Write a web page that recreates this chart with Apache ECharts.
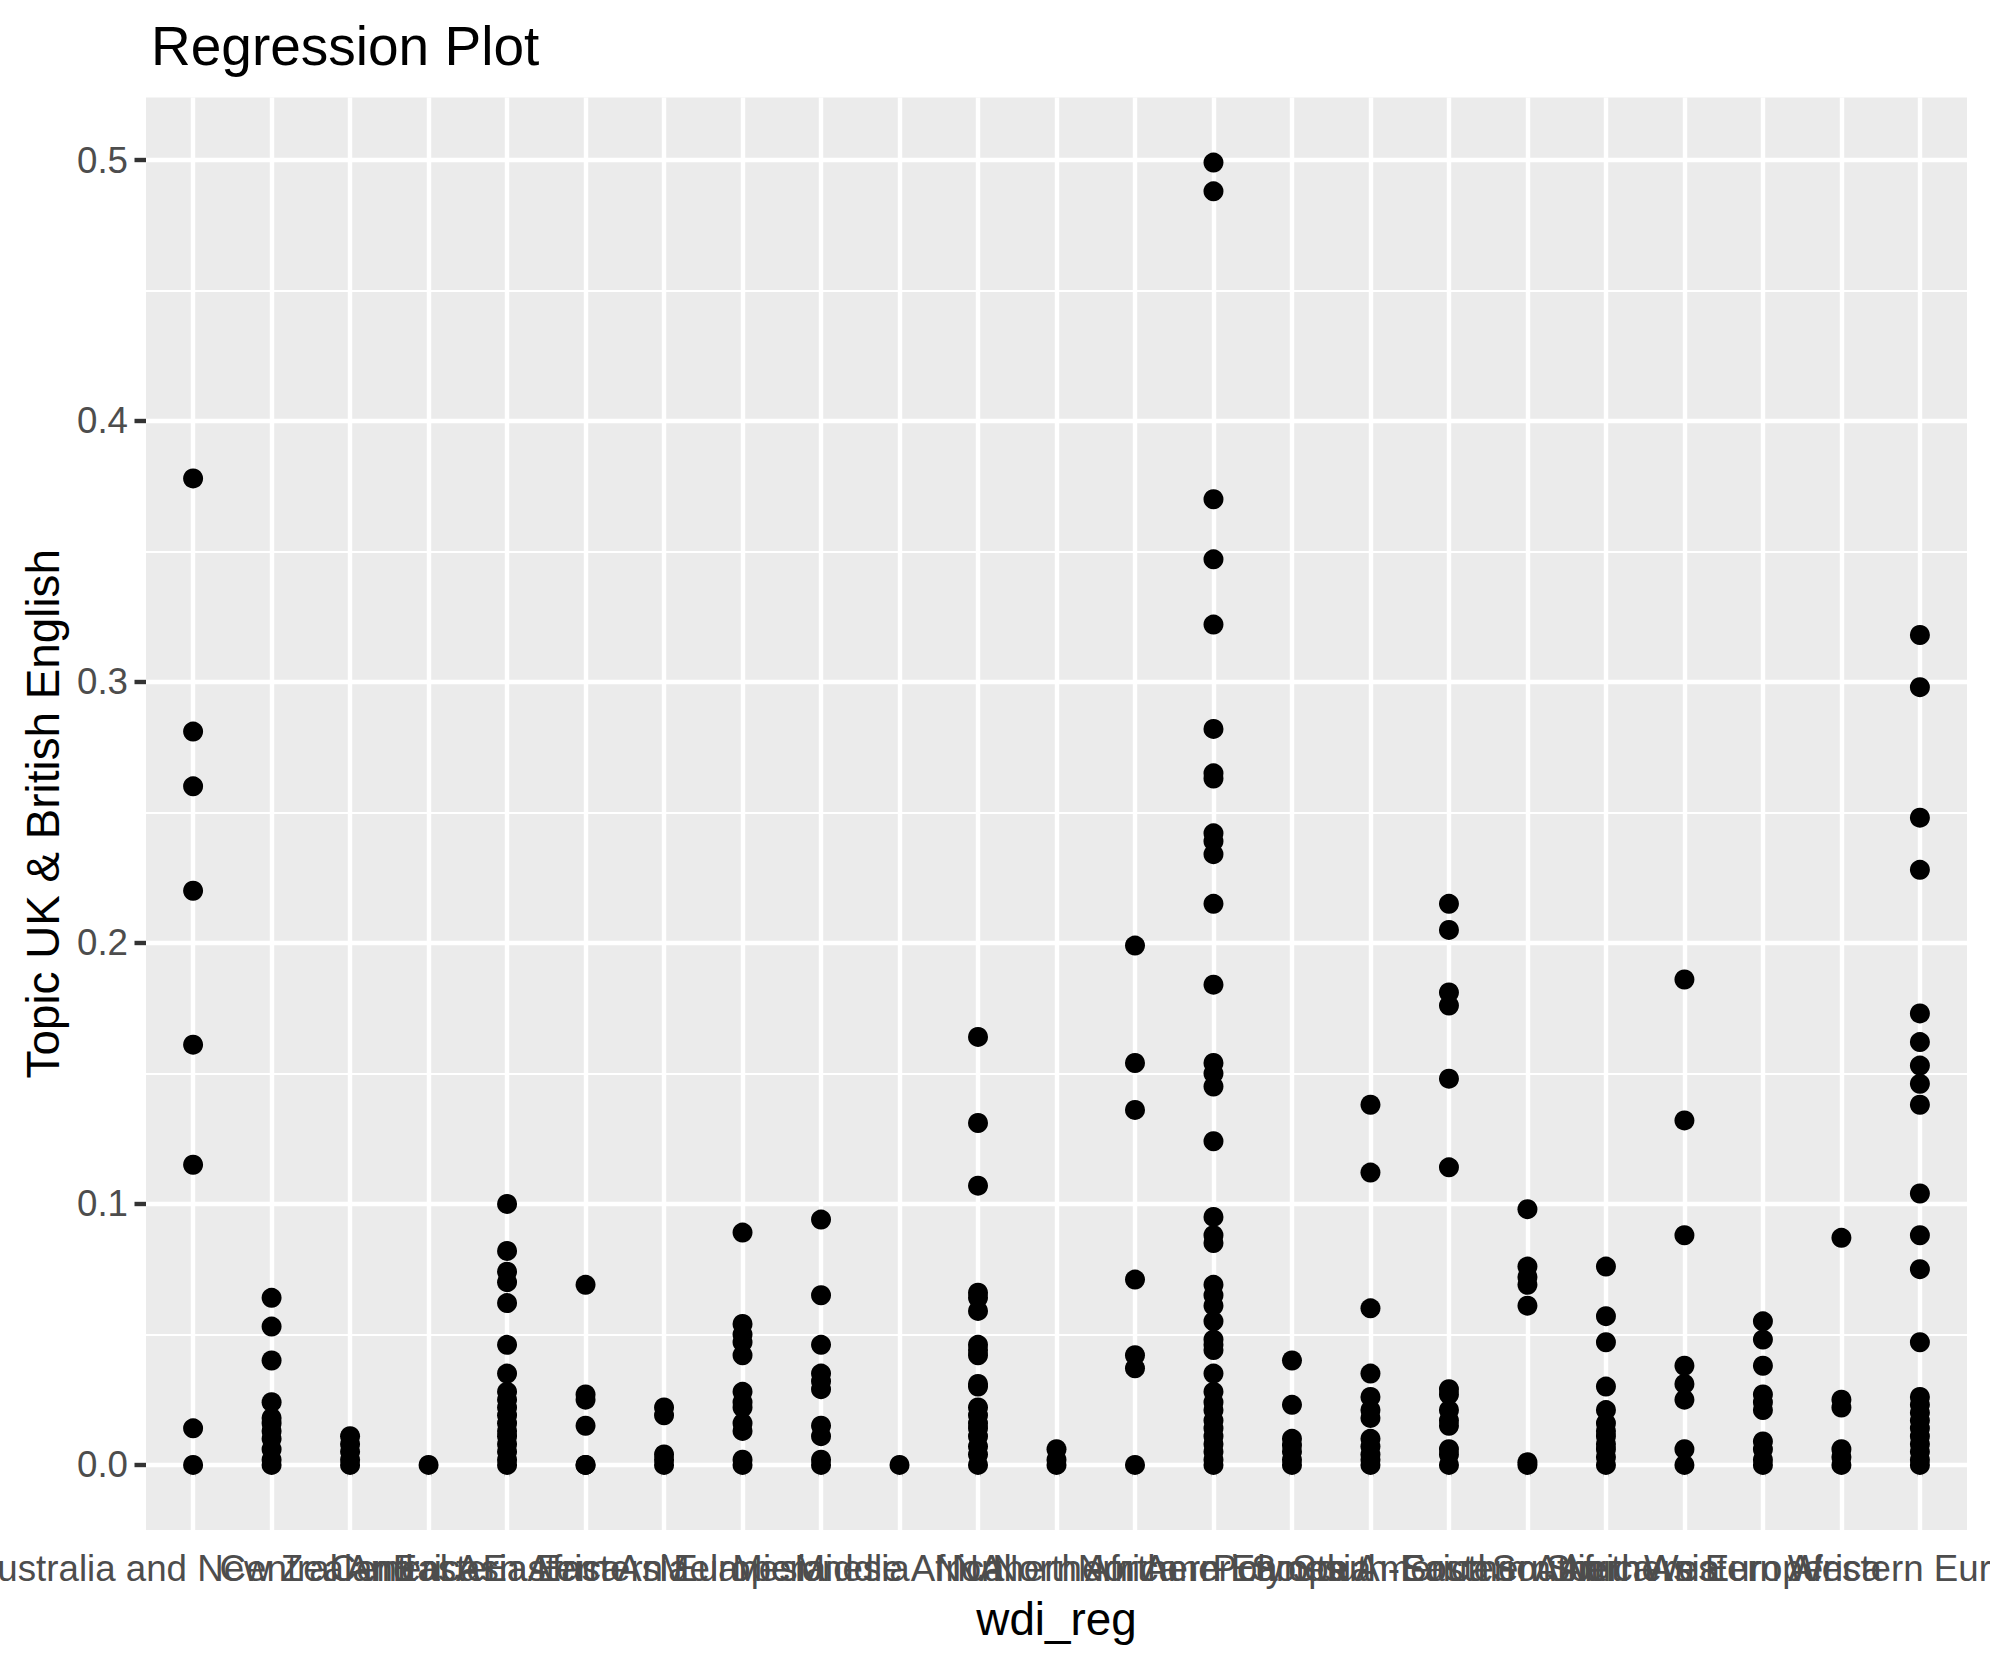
<!DOCTYPE html>
<html>
<head>
<meta charset="utf-8">
<script src="https://cdn.jsdelivr.net/npm/echarts@6/dist/echarts.min.js"></script>
<style>
  html, body { margin: 0; padding: 0; background: #ffffff; }
  #chart { width: 1990px; height: 1665px; }
</style>
</head>
<body>
<div id="chart"></div>
<script>
// ---- Data ----
const categories = [
  "Australia and New Zealand", "Caribbean", "Central America", "Central Asia",
  "Eastern Africa", "Eastern Asia", "Eastern Europe", "Melanesia", "Micronesia",
  "Middle Africa", "NA", "Northern Africa", "Northern America", "Northern Europe",
  "Polynesia", "South America", "South-Eastern Asia", "Southern Africa",
  "Southern Asia", "Southern Europe", "Western Africa", "Western Asia", "Western Europe"
];

const australiaNewZealand = [0.378, 0.281, 0.260, 0.220, 0.161, 0.115, 0.014, 0.0];
const caribbean = [0.064, 0.053, 0.040, 0.024, 0.018, 0.016, 0.013, 0.010, 0.006, 0.002, 0.0];
const centralAmerica = [0.011, 0.008, 0.005, 0.002, 0.0];
const centralAsia = [0.0];
const easternAfrica = [0.100, 0.082, 0.074, 0.070, 0.062, 0.046, 0.035, 0.028, 0.025, 0.022, 0.019, 0.016, 0.013, 0.011, 0.008, 0.005, 0.002, 0.0];
const easternAsia = [0.069, 0.027, 0.025, 0.015, 0.0, 0.0];
const easternEurope = [0.022, 0.019, 0.004, 0.002, 0.0];
const melanesia = [0.089, 0.054, 0.050, 0.047, 0.042, 0.028, 0.024, 0.022, 0.016, 0.013, 0.002, 0.0];
const micronesia = [0.094, 0.065, 0.046, 0.035, 0.032, 0.029, 0.015, 0.011, 0.002, 0.0];
const middleAfrica = [0.0];
const naRegion = [0.164, 0.131, 0.107, 0.066, 0.064, 0.059, 0.046, 0.044, 0.042, 0.031, 0.030, 0.022, 0.019, 0.016, 0.014, 0.011, 0.007, 0.004, 0.0];
const northernAfrica = [0.006, 0.002, 0.0];
const northernAmerica = [0.199, 0.154, 0.136, 0.071, 0.042, 0.037, 0.0];
const northernEurope = [0.499, 0.488, 0.370, 0.347, 0.322, 0.282, 0.265, 0.263, 0.242, 0.239, 0.234, 0.215, 0.184, 0.154, 0.150, 0.145, 0.124, 0.095, 0.088, 0.085, 0.069, 0.065, 0.061, 0.055, 0.048, 0.046, 0.044, 0.035, 0.028, 0.024, 0.021, 0.017, 0.014, 0.011, 0.008, 0.005, 0.002, 0.0];
const polynesia = [0.040, 0.023, 0.010, 0.0075, 0.005, 0.002, 0.0];
const southAmerica = [0.138, 0.112, 0.060, 0.035, 0.026, 0.021, 0.018, 0.010, 0.007, 0.004, 0.002, 0.0];
const southEasternAsia = [0.215, 0.205, 0.181, 0.176, 0.148, 0.114, 0.029, 0.027, 0.021, 0.017, 0.015, 0.006, 0.004, 0.0];
const southernAfrica = [0.098, 0.076, 0.072, 0.069, 0.061, 0.001, 0.0];
const southernAsia = [0.076, 0.057, 0.047, 0.030, 0.021, 0.016, 0.013, 0.011, 0.008, 0.006, 0.003, 0.0];
const southernEurope = [0.186, 0.132, 0.088, 0.038, 0.031, 0.025, 0.006, 0.0];
const westernAfrica = [0.055, 0.048, 0.038, 0.027, 0.024, 0.021, 0.009, 0.006, 0.002, 0.0];
const westernAsia = [0.087, 0.025, 0.022, 0.006, 0.003, 0.0];
const westernEurope = [0.318, 0.298, 0.248, 0.228, 0.173, 0.162, 0.153, 0.146, 0.138, 0.104, 0.088, 0.075, 0.047, 0.026, 0.023, 0.020, 0.017, 0.014, 0.011, 0.008, 0.005, 0.002, 0.0];

const valuesByRegion = [
  australiaNewZealand, caribbean, centralAmerica, centralAsia, easternAfrica,
  easternAsia, easternEurope, melanesia, micronesia, middleAfrica, naRegion,
  northernAfrica, northernAmerica, northernEurope, polynesia, southAmerica,
  southEasternAsia, southernAfrica, southernAsia, southernEurope, westernAfrica,
  westernAsia, westernEurope
];

const yTicks = [0.0, 0.1, 0.2, 0.3, 0.4, 0.5];
const yMinorTicks = [0.05, 0.15, 0.25, 0.35, 0.45];

// ---- Build chart ----
const FONT = "'Liberation Sans', Arial, Helvetica, sans-serif";
const xTicks = categories.map((c, i) => i + 1);
const yLo = -0.02495, yHi = 0.52395;

const points = [];
valuesByRegion.forEach((arr, i) => arr.forEach(v => points.push([i + 1, v])));

const chart = echarts.init(document.getElementById('chart'), null, { renderer: 'svg' });
chart.setOption({
  animation: false,
  backgroundColor: '#ffffff',
  textStyle: { fontFamily: FONT },
  title: {
    text: 'Regression Plot',
    left: 146, top: 13,
    textStyle: { fontSize: 55, fontWeight: 'normal', color: '#000000', fontFamily: FONT }
  },
  grid: {
    left: 146, right: 23, top: 97.5, bottom: 135,
    containLabel: false, outerBoundsMode: 'none',
    show: true, backgroundColor: '#EBEBEB', borderWidth: 0
  },
  xAxis: {
    type: 'value', min: 0.4, max: 23.6,
    name: 'wdi_reg', nameLocation: 'middle', nameGap: 66,
    nameTextStyle: { fontSize: 45.8, color: '#000000', fontFamily: FONT },
    axisLine: { show: false },
    splitLine: { show: false },
    axisTick: { show: true, customValues: xTicks, length: 11.5, lineStyle: { color: '#333333', width: 4.4 } },
    axisLabel: {
      customValues: xTicks, interval: 0, hideOverlap: false,
      showMinLabel: true, showMaxLabel: true,
      formatter: v => categories[Math.round(v) - 1] || '',
      fontSize: 36.7, color: '#4D4D4D', margin: 20, fontFamily: FONT
    }
  },
  yAxis: {
    type: 'value', min: yLo, max: yHi,
    name: 'Topic UK & British English', nameLocation: 'middle', nameGap: 78,
    nameTextStyle: { fontSize: 45.8, color: '#000000', fontFamily: FONT },
    axisLine: { show: false },
    splitLine: { show: false },
    axisTick: { show: true, customValues: yTicks, length: 11.5, lineStyle: { color: '#333333', width: 4.4 } },
    axisLabel: {
      customValues: yTicks,
      showMinLabel: true, showMaxLabel: true,
      formatter: v => Number(v).toFixed(1),
      fontSize: 36.7, color: '#4D4D4D', margin: 18, fontFamily: FONT
    }
  },
  series: [
    {
      type: 'scatter', data: [], silent: true, z: 1,
      markLine: {
        silent: true, symbol: ['none', 'none'], label: { show: false },
        lineStyle: { color: '#ffffff', width: 2.2, type: 'solid' },
        data: yMinorTicks.map(v => ({ yAxis: v }))
      }
    },
    {
      type: 'scatter', data: [], silent: true, z: 2,
      markLine: {
        silent: true, symbol: ['none', 'none'], label: { show: false },
        lineStyle: { color: '#ffffff', width: 4.4, type: 'solid' },
        data: yTicks.map(v => ({ yAxis: v })).concat(xTicks.map(v => ({ xAxis: v })))
      }
    },
    {
      type: 'scatter', z: 5,
      symbol: 'circle', symbolSize: 20,
      itemStyle: { color: '#000000', opacity: 1 },
      data: points
    }
  ]
});
</script>
</body>
</html>
